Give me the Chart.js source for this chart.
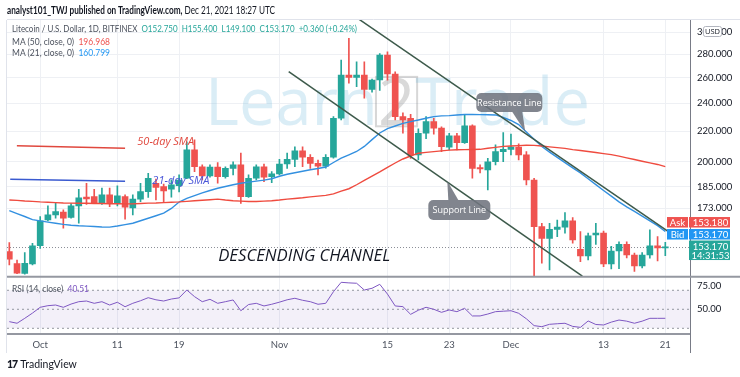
<!DOCTYPE html>
<html lang="en">
<head>
<meta charset="UTF-8" />
<meta name="viewport" content="width=device-width, initial-scale=1.0" />
<title>Litecoin / U.S. Dollar - Descending Channel</title>
<script src="https://cdn.jsdelivr.net/npm/chart.js@4.4.1/dist/chart.umd.min.js"></script>
<style>
  html, body { margin: 0; padding: 0; background: #fff; }
  #wrap { position: relative; width: 740px; height: 377px; overflow: hidden; font-family: Lato, "Open Sans", sans-serif; color: #131722; }
  #ltcChart { position: absolute; left: 0; top: 0; }
  .txt { position: absolute; white-space: nowrap; line-height: 1; transform-origin: 0 50%; }
  #publisher { left: 7px; top: 5px; font-size: 10.5px; color: #131722; }
  #publisher b { font-weight: 700; }
  #symbol { left: 12px; top: 24px; font-size: 9.5px; color: #4c525e; }
  #ma50Legend { left: 12px; top: 37px; font-size: 9.5px; color: #4c525e; }
  #ma21Legend { left: 12px; top: 48px; font-size: 9.5px; color: #4c525e; }
  #rsiLegend { left: 12px; top: 284px; font-size: 9.5px; color: #4c525e; }
  #tvLogo { left: 7px; top: 359px; font-size: 10.5px; color: #131722; }
  #tvLogo b { font-weight: 900; letter-spacing: -1px; margin-right: 3px; }
  .up { color: #26a69a; }
  .red { color: #ef5350; }
  .blue { color: #2196f3; }
  .purple { color: #7e57c2; }
</style>
</head>
<body>
<div id="wrap">
  <canvas id="ltcChart" width="740" height="377"></canvas>
  <div class="txt" id="publisher" data-w="268"><b>analyst101_TWJ published on TradingView.com,</b> Dec 21, 2021 18:27 UTC</div>
  <div class="txt" id="symbol" data-w="345">Litecoin / U.S. Dollar, 1D, BITFINEX&nbsp; <span class="up">O152.750&nbsp; H155.400&nbsp; L149.100&nbsp; C153.170&nbsp; +0.360 (+0.24%)</span></div>
  <div class="txt" id="ma50Legend" data-w="98">MA (50, close, 0)&nbsp; <span class="red">196.968</span></div>
  <div class="txt" id="ma21Legend" data-w="98">MA (21, close, 0)&nbsp; <span class="blue">160.799</span></div>
  <div class="txt" id="rsiLegend" data-w="77">RSI (14, close)&nbsp; <span class="purple">40.51</span></div>
  <div class="txt" id="tvLogo"><b>17</b>TradingView</div>
</div>

<script>
// daily candles, Sep 27 - Dec 21 2021
const firstDay = Date.UTC(2021, 8, 27);
const dates = Array.from({ length: 86 }, (_, i) => new Date(firstDay + i * 86400000).toISOString().slice(0, 10));

const openPrices = [
  151.0, 145.5, 141.0, 145.3, 153.8, 166.7, 169.4, 170.8, 168.0, 174.2,
  179.0, 179.3, 176.0, 180.3, 175.4, 179.3, 173.1, 177.9, 182.1, 187.0,
  185.0, 183.5, 185.5, 189.9, 207.5, 196.9, 191.3, 196.6, 190.9, 195.9,
  198.0, 179.3, 189.9, 196.9, 190.9, 192.5, 198.6, 201.5, 207.0, 202.8,
  199.0, 197.3, 202.8, 229.1, 262.3, 260.4, 262.3, 250.8, 258.2, 279.2,
  263.1, 230.3, 229.1, 204.3, 218.6, 226.7, 222.1, 209.3, 216.8, 212.3,
  223.7, 196.3, 194.9, 200.0, 206.4, 207.9, 209.3, 204.3, 188.9, 163.3,
  157.4, 161.9, 163.0, 166.2, 152.1, 149.0, 159.1, 160.0, 145.3, 151.3,
  154.5, 149.4, 144.4, 149.4, 153.7, 152.75
];
const highPrices = [
  155.3, 147.1, 150.5, 155.0, 168.5, 174.2, 175.6, 172.0, 175.4, 183.5,
  187.0, 183.5, 184.1, 184.1, 185.4, 180.3, 180.3, 187.0, 192.9, 189.5,
  186.5, 189.0, 191.9, 212.9, 214.1, 198.0, 198.0, 199.4, 196.9, 200.0,
  205.4, 191.9, 198.0, 198.5, 193.9, 201.5, 205.4, 209.6, 209.6, 204.5,
  201.1, 204.5, 230.3, 274.9, 294.2, 273.4, 273.4, 258.9, 280.5, 282.0,
  265.0, 233.0, 232.0, 221.6, 230.3, 229.1, 223.0, 218.6, 218.6, 231.5,
  224.5, 198.0, 202.2, 210.8, 219.0, 218.1, 211.5, 206.4, 189.9, 165.0,
  165.0, 166.7, 170.6, 168.0, 160.7, 160.0, 164.9, 161.0, 153.5, 155.7,
  155.7, 150.3, 150.5, 161.6, 158.2, 155.4
];
const lowPrices = [
  144.8, 140.9, 140.7, 144.8, 152.5, 166.2, 167.6, 162.5, 167.6, 165.0,
  175.0, 175.6, 175.0, 173.8, 174.2, 167.1, 169.4, 176.5, 178.9, 177.5,
  176.5, 179.0, 182.0, 189.6, 193.9, 188.9, 190.5, 187.0, 189.9, 191.9,
  175.6, 178.9, 188.9, 187.9, 187.3, 191.9, 195.9, 196.9, 196.9, 195.9,
  191.9, 196.0, 202.2, 227.9, 255.6, 252.8, 243.9, 248.6, 250.0, 258.0,
  227.9, 218.6, 202.0, 201.1, 215.0, 218.0, 206.4, 207.5, 207.5, 211.8,
  189.9, 193.1, 183.1, 198.0, 200.0, 204.3, 201.1, 186.0, 135.0, 145.6,
  142.6, 158.2, 160.0, 155.0, 146.3, 147.1, 154.4, 144.1, 143.0, 143.1,
  148.0, 141.9, 143.5, 147.9, 146.7, 149.1
];
const closePrices = [
  147.5, 141.2, 145.6, 153.8, 166.3, 169.4, 171.1, 167.6, 174.2, 178.7,
  178.0, 176.0, 180.3, 175.6, 179.7, 173.5, 177.9, 182.1, 189.9, 184.6,
  182.5, 186.0, 188.9, 207.5, 196.9, 191.3, 196.6, 190.9, 195.9, 198.0,
  179.3, 189.9, 196.9, 190.5, 192.5, 198.6, 201.5, 207.0, 202.8, 199.0,
  197.3, 202.8, 229.1, 262.3, 260.4, 262.3, 250.8, 258.2, 279.2, 263.1,
  230.3, 228.0, 204.3, 218.6, 226.7, 222.1, 209.6, 216.8, 212.3, 223.7,
  195.9, 195.6, 200.0, 206.4, 207.9, 209.3, 204.3, 188.9, 163.3, 157.4,
  161.9, 163.0, 166.2, 156.6, 149.0, 158.6, 160.0, 145.3, 151.3, 154.5,
  149.4, 144.4, 149.4, 153.7, 152.8, 153.17
];
const ma50Values = [
  177.4, 177.2, 176.9, 176.7, 176.4, 176.2, 176.0, 175.8, 175.7, 175.6,
  175.6, 175.5, 175.5, 175.4, 175.4, 175.3, 175.3, 175.5, 175.7, 175.8,
  176.0, 176.2, 176.4, 176.7, 177.0, 177.3, 177.6, 177.9, 177.4, 177.0,
  176.8, 176.6, 176.6, 176.8, 177.0, 177.4, 177.9, 178.3, 178.7, 179.2,
  179.6, 180.0, 180.9, 182.4, 183.8, 186.1, 188.6, 191.2, 193.7, 196.5,
  199.2, 201.7, 203.6, 205.4, 205.9, 206.4, 206.9, 207.4, 207.6, 207.7,
  207.8, 207.9, 208.6, 209.2, 209.8, 210.1, 210.3, 210.6, 210.5, 210.1,
  209.5, 209.0, 208.5, 207.7, 207.1, 206.5, 205.8, 205.1, 204.5, 203.5,
  202.4, 201.4, 200.3, 199.3, 198.3, 196.97
];
const ma21Values = [
  171.6, 170.0, 168.5, 166.9, 166.2, 165.6, 165.0, 164.4, 164.0, 163.7,
  163.5, 163.3, 163.1, 163.0, 163.6, 164.3, 165.0, 166.3, 167.6, 168.9,
  170.3, 172.8, 176.3, 178.3, 179.9, 181.4, 182.8, 184.1, 185.1, 186.1,
  187.0, 187.6, 188.2, 188.8, 189.6, 191.1, 192.3, 193.2, 194.1, 195.0,
  195.8, 196.7, 199.5, 202.2, 204.3, 206.5, 209.8, 214.3, 218.8, 221.8,
  223.6, 225.5, 226.7, 227.9, 229.1, 230.3, 230.8, 231.0, 231.5, 231.8,
  231.9, 231.7, 231.6, 231.5, 229.7, 227.5, 224.6, 219.5, 214.6, 209.7,
  206.1, 202.7, 199.4, 196.2, 193.1, 189.6, 186.2, 182.8, 179.6, 176.4,
  173.7, 171.2, 168.7, 166.2, 163.8, 160.8
];
const rsiValues = [
  37.0, 35.3, 40.5, 46.0, 52.1, 53.8, 54.5, 52.1, 55.5, 58.0,
  58.7, 56.3, 58.0, 54.5, 57.4, 52.7, 56.3, 59.0, 62.2, 60.0,
  58.7, 60.8, 62.0, 70.3, 63.3, 58.0, 60.5, 56.3, 58.0, 59.8,
  48.5, 55.0, 56.3, 53.5, 55.3, 57.5, 60.0, 61.6, 59.5, 58.0,
  55.3, 56.3, 68.5, 78.4, 77.8, 77.4, 70.3, 72.1, 76.3, 66.0,
  53.5, 52.8, 44.7, 49.0, 52.1, 50.0, 46.8, 49.3, 47.5, 51.0,
  43.0, 43.0, 45.0, 47.5, 48.0, 48.5, 45.8, 40.0, 32.8, 31.7,
  34.2, 34.8, 35.3, 32.0, 31.0, 37.7, 34.0, 33.5, 36.5, 38.7,
  37.5, 35.3, 37.5, 40.5, 40.5, 40.51
];

const priceTicks = [173, 185, 200, 220, 240, 260, 280, 300];
const rsiTicks = [50, 75];
const rsiLevels = [70, 50, 30];
const xTickDates = ['2021-10-01', '2021-10-11', '2021-10-19', '2021-11-01', '2021-11-15', '2021-11-23', '2021-12-01', '2021-12-13', '2021-12-21'];
const xTickLabels = ['Oct', '11', '19', 'Nov', '15', '23', 'Dec', '13', '21'];

// drawings on the chart, as [day index, price]
const resistanceLine = [[45.09, 313.4], [85.26, 161.1]];
const supportLine = [[36.2, 265.0], [74.25, 139.9]];
const sma50Key = [[0.98, 210.3], [15.0, 208.6]];
const sma21Key = [[0.12, 189.3], [15.0, 188.2]];
const askPrice = 153.18;
const bidPrice = 153.17;
const barCountdown = '14:31:53';

const GREEN = '#26a69a';
const RED = '#ef5350';
const X_MIN = -0.3, X_MAX = 88.2;

const days = dates.map((_, i) => i);
const candleColors = days.map(i => (closePrices[i] >= openPrices[i] ? GREEN : RED));
const xTickIdx = xTickDates.map(d => dates.indexOf(d));
const toPoints = pts => pts.map(([x, y]) => ({ x, y }));
const flatLine = v => [{ x: X_MIN, y: v }, { x: X_MAX, y: v }];
const lastClose = closePrices[closePrices.length - 1];

// squeeze the legend lines to the widths they have in the snapshot
document.querySelectorAll('.txt[data-w]').forEach(el => {
  const w = el.getBoundingClientRect().width;
  el.style.transform = `scaleX(${Number(el.dataset.w) / w})`;
});

function roundRect(ctx, x, y, w, h, r) {
  ctx.beginPath();
  ctx.moveTo(x + r, y);
  ctx.arcTo(x + w, y, x + w, y + h, r);
  ctx.arcTo(x + w, y + h, x, y + h, r);
  ctx.arcTo(x, y + h, x, y, r);
  ctx.arcTo(x, y, x + w, y, r);
  ctx.closePath();
}

function callout(ctx, text, cx, cy, tipX, tipY, w, h) {
  const left = cx - w / 2, top = cy - h / 2;
  const edgeY = tipY > cy ? top + h : top;
  const bx = (tipX + cx) / 2;
  ctx.fillStyle = 'rgba(112, 116, 126, 0.88)';
  ctx.beginPath();
  ctx.moveTo(bx - 5, edgeY);
  ctx.lineTo(tipX, tipY);
  ctx.lineTo(bx + 5, edgeY);
  ctx.closePath();
  ctx.fill();
  roundRect(ctx, left, top, w, h, 5);
  ctx.fill();
  ctx.fillStyle = '#ffffff';
  ctx.font = '9px "Open Sans", sans-serif';
  ctx.textAlign = 'center';
  ctx.textBaseline = 'middle';
  ctx.fillText(text, cx, cy + 0.5);
}

const overlay = {
  id: 'ltcOverlay',
  beforeDatasetsDraw(chart) {
    const { ctx, chartArea } = chart;
    const y = chart.scales.y;
    ctx.save();
    ctx.beginPath();
    ctx.rect(chartArea.left, y.top, chartArea.width, y.height);
    ctx.clip();

    // Learn2Trade watermark
    ctx.font = '400 100px "Open Sans", sans-serif';
    const size = 100 * 385 / ctx.measureText('Learn2Trade').width;
    ctx.font = `400 ${size}px "Open Sans", sans-serif`;
    ctx.textBaseline = 'alphabetic';
    ctx.textAlign = 'left';
    let wx = chartArea.left + 198;
    const wy = y.top + 105;
    ctx.fillStyle = 'rgba(120, 190, 222, 0.27)';
    ctx.fillText('Learn', wx, wy);
    wx += ctx.measureText('Learn').width;
    const w2 = ctx.measureText('2').width;
    ctx.fillStyle = 'rgba(110, 110, 110, 0.26)';
    ctx.fillText('2', wx, wy);
    ctx.strokeStyle = 'rgba(110, 110, 110, 0.28)';
    ctx.lineWidth = 2;
    ctx.strokeRect(wx - 2, wy - size * 0.74, w2 + 4, size * 0.76);
    wx += w2;
    ctx.fillStyle = 'rgba(120, 190, 222, 0.27)';
    ctx.fillText('Trade', wx, wy);

    // last price line
    const py = y.getPixelForValue(lastClose);
    ctx.strokeStyle = '#8a8d96';
    ctx.lineWidth = 1;
    ctx.setLineDash([1, 2]);
    ctx.beginPath();
    ctx.moveTo(chartArea.left, py + 0.5);
    ctx.lineTo(chartArea.right, py + 0.5);
    ctx.stroke();
    ctx.restore();
  },
  afterDatasetsDraw(chart) {
    const { ctx } = chart;
    const { x, y } = chart.scales;
    const px = d => x.getPixelForValue(d);
    const py = p => y.getPixelForValue(p);
    ctx.save();
    ctx.textAlign = 'left';
    ctx.textBaseline = 'alphabetic';
    ctx.font = 'italic 11px "Open Sans", sans-serif';
    ctx.fillStyle = '#e0483e';
    ctx.fillText('50-day SMA', px(16.58), py(210.4));
    ctx.fillStyle = '#4a56d8';
    ctx.fillText('21-day SMA', px(18.53), py(186.6));

    const channelText = 'DESCENDING CHANNEL';
    ctx.font = 'italic 500 100px "Open Sans", sans-serif';
    const chSize = 100 * 172 / ctx.measureText(channelText).width;
    ctx.font = `italic 500 ${chSize}px "Open Sans", sans-serif`;
    ctx.fillStyle = '#131722';
    ctx.fillText(channelText, px(27.07), py(146.4));

    callout(ctx, 'Resistance Line', px(64.79), py(240.7), px(66.86), py(219.5), 66, 19);
    callout(ctx, 'Support Line', px(58.31), py(172.0), px(56.75), py(188.3), 62, 20);
    ctx.restore();
  },
  afterDraw(chart) {
    const { ctx, chartArea, width } = chart;
    const { y, yRsi } = chart.scales;
    ctx.save();
    // pane frame and separators
    ctx.strokeStyle = '#e0e3eb';
    ctx.lineWidth = 1;
    ctx.beginPath();
    ctx.moveTo(chartArea.left - 0.5, chartArea.top);
    ctx.lineTo(chartArea.left - 0.5, chartArea.bottom + 19);
    ctx.moveTo(chartArea.left, chartArea.top - 0.5);
    ctx.lineTo(width, chartArea.top - 0.5);
    ctx.stroke();
    ctx.strokeStyle = '#9598a1';
    ctx.lineWidth = 2;
    ctx.beginPath();
    ctx.moveTo(chartArea.left, y.bottom);
    ctx.lineTo(width, y.bottom);
    ctx.stroke();
    ctx.lineWidth = 1;
    ctx.strokeStyle = '#787b86';
    ctx.beginPath();
    ctx.moveTo(chartArea.right + 0.5, yRsi.bottom);
    ctx.lineTo(chartArea.right + 0.5, chartArea.bottom + 19);
    ctx.stroke();

    // USD badge
    ctx.fillStyle = '#ffffff';
    ctx.strokeStyle = '#b2b5be';
    roundRect(ctx, chartArea.right + 13.5, y.top + 6.5, 18, 10, 2);
    ctx.fill();
    ctx.stroke();
    ctx.fillStyle = '#131722';
    ctx.font = '7.5px "Open Sans", sans-serif';
    ctx.textAlign = 'center';
    ctx.textBaseline = 'middle';
    ctx.fillText('USD', chartArea.right + 22.5, y.top + 11.8);

    // ask / bid / last labels
    const lp = y.getPixelForValue(lastClose);
    const boxL = chartArea.right - 23, boxR = chartArea.right + 1, boxW = 39;
    ctx.font = '9.5px Lato, "Open Sans", sans-serif';
    const rows = [
      { label: 'Ask', value: askPrice.toFixed(3), color: RED, top: lp - 30 },
      { label: 'Bid', value: bidPrice.toFixed(3), color: '#2196f3', top: lp - 18 }
    ];
    rows.forEach(r => {
      ctx.fillStyle = r.color;
      ctx.fillRect(boxL, r.top, 21, 10.5);
      ctx.fillRect(boxR - 2, r.top, boxW + 2, 10.5);
      ctx.fillStyle = '#ffffff';
      ctx.textAlign = 'center';
      ctx.fillText(r.label, boxL + 10.5, r.top + 5.5);
      ctx.fillText(r.value, boxR + boxW / 2, r.top + 5.5);
    });
    ctx.fillStyle = GREEN;
    ctx.fillRect(boxR - 2, lp - 6.5, boxW + 2, 19.5);
    ctx.fillStyle = '#ffffff';
    ctx.fillText(lastClose.toFixed(3), boxR + boxW / 2, lp);
    ctx.fillText(barCountdown, boxR + boxW / 2, lp + 8.5);
    ctx.restore();
  }
};

const axisFont = { family: 'Lato, "Open Sans", sans-serif', size: 9.5 };

new Chart(document.getElementById('ltcChart'), {
  data: {
    datasets: [
      { type: 'line', label: 'Resistance', data: toPoints(resistanceLine), borderColor: '#3d5a4b', borderWidth: 1.5, pointRadius: 0, yAxisID: 'y' },
      { type: 'line', label: 'Support', data: toPoints(supportLine), borderColor: '#3d5a4b', borderWidth: 1.5, pointRadius: 0, yAxisID: 'y' },
      { type: 'line', label: 'SMA 50 key', data: toPoints(sma50Key), borderColor: '#e0483e', borderWidth: 1.5, pointRadius: 0, yAxisID: 'y' },
      { type: 'line', label: 'SMA 21 key', data: toPoints(sma21Key), borderColor: '#3a5ad0', borderWidth: 1.5, pointRadius: 0, yAxisID: 'y' },
      { type: 'line', label: 'MA 50', data: days.map(i => ({ x: i, y: ma50Values[i] })), borderColor: '#ef4b3f', borderWidth: 1.4, pointRadius: 0, yAxisID: 'y' },
      { type: 'line', label: 'MA 21', data: days.map(i => ({ x: i, y: ma21Values[i] })), borderColor: '#3390e0', borderWidth: 1.4, pointRadius: 0, yAxisID: 'y' },
      { type: 'bar', label: 'Body', data: days.map(i => ({ x: i, y: [Math.min(openPrices[i], closePrices[i]), Math.max(openPrices[i], closePrices[i])] })), backgroundColor: candleColors, barThickness: 6, minBarLength: 1, grouped: false, yAxisID: 'y' },
      { type: 'bar', label: 'Wick', data: days.map(i => ({ x: i, y: [lowPrices[i], highPrices[i]] })), backgroundColor: candleColors, barThickness: 1, grouped: false, yAxisID: 'y' },
      { type: 'line', label: 'RSI', data: days.map(i => ({ x: i, y: rsiValues[i] })), borderColor: '#7e57c2', borderWidth: 1, pointRadius: 0, yAxisID: 'yRsi' },
      ...rsiLevels.map((lv, k) => ({
        type: 'line', label: 'RSI ' + lv, data: flatLine(lv), borderColor: '#9598a1', borderWidth: 1, borderDash: [2, 3], pointRadius: 0, yAxisID: 'yRsi',
        fill: k === 2 ? { value: rsiLevels[0] } : false, backgroundColor: 'rgba(126, 87, 194, 0.09)'
      }))
    ]
  },
  options: {
    responsive: false,
    animation: false,
    events: [],
    layout: { padding: { left: 7, top: 20, right: 0, bottom: 23 } },
    plugins: { legend: { display: false }, tooltip: { enabled: false } },
    scales: {
      x: {
        type: 'linear', position: 'bottom', min: X_MIN, max: X_MAX, bounds: 'data', offset: false,
        afterBuildTicks: a => { a.ticks = xTickIdx.map(v => ({ value: v })); },
        afterFit: s => { s.height = 20; s.paddingLeft = 0; s.paddingRight = 0; },
        ticks: { autoSkip: false, maxRotation: 0, padding: 5, color: '#4c525e', font: axisFont, callback: (v, i) => xTickLabels[i] },
        grid: { color: '#eef0f4', drawTicks: false, offset: false },
        border: { color: '#9598a1', width: 2 }
      },
      y: {
        type: 'logarithmic', position: 'right', stack: 'panes', stackWeight: 256.7, min: 139.6, max: 311.5, bounds: 'data',
        afterBuildTicks: a => { a.ticks = priceTicks.map(v => ({ value: v })); },
        afterFit: s => { s.width = 50; },
        ticks: { autoSkip: false, padding: 7, color: '#131722', font: axisFont, callback: (v, i) => priceTicks[i].toFixed(3) },
        grid: { color: '#eef0f4', drawTicks: false },
        border: { color: '#787b86' }
      },
      yRsi: {
        type: 'linear', position: 'right', stack: 'panes', stackWeight: 57.3, min: 24, max: 84.3, bounds: 'data',
        afterBuildTicks: a => { a.ticks = rsiTicks.map(v => ({ value: v })); },
        afterFit: s => { s.width = 50; },
        ticks: { autoSkip: false, padding: 7, color: '#131722', font: axisFont, callback: (v, i) => rsiTicks[i].toFixed(2) },
        grid: { display: false, drawTicks: false },
        border: { color: '#787b86' }
      }
    }
  },
  plugins: [overlay]
});
</script>
</body>
</html>
